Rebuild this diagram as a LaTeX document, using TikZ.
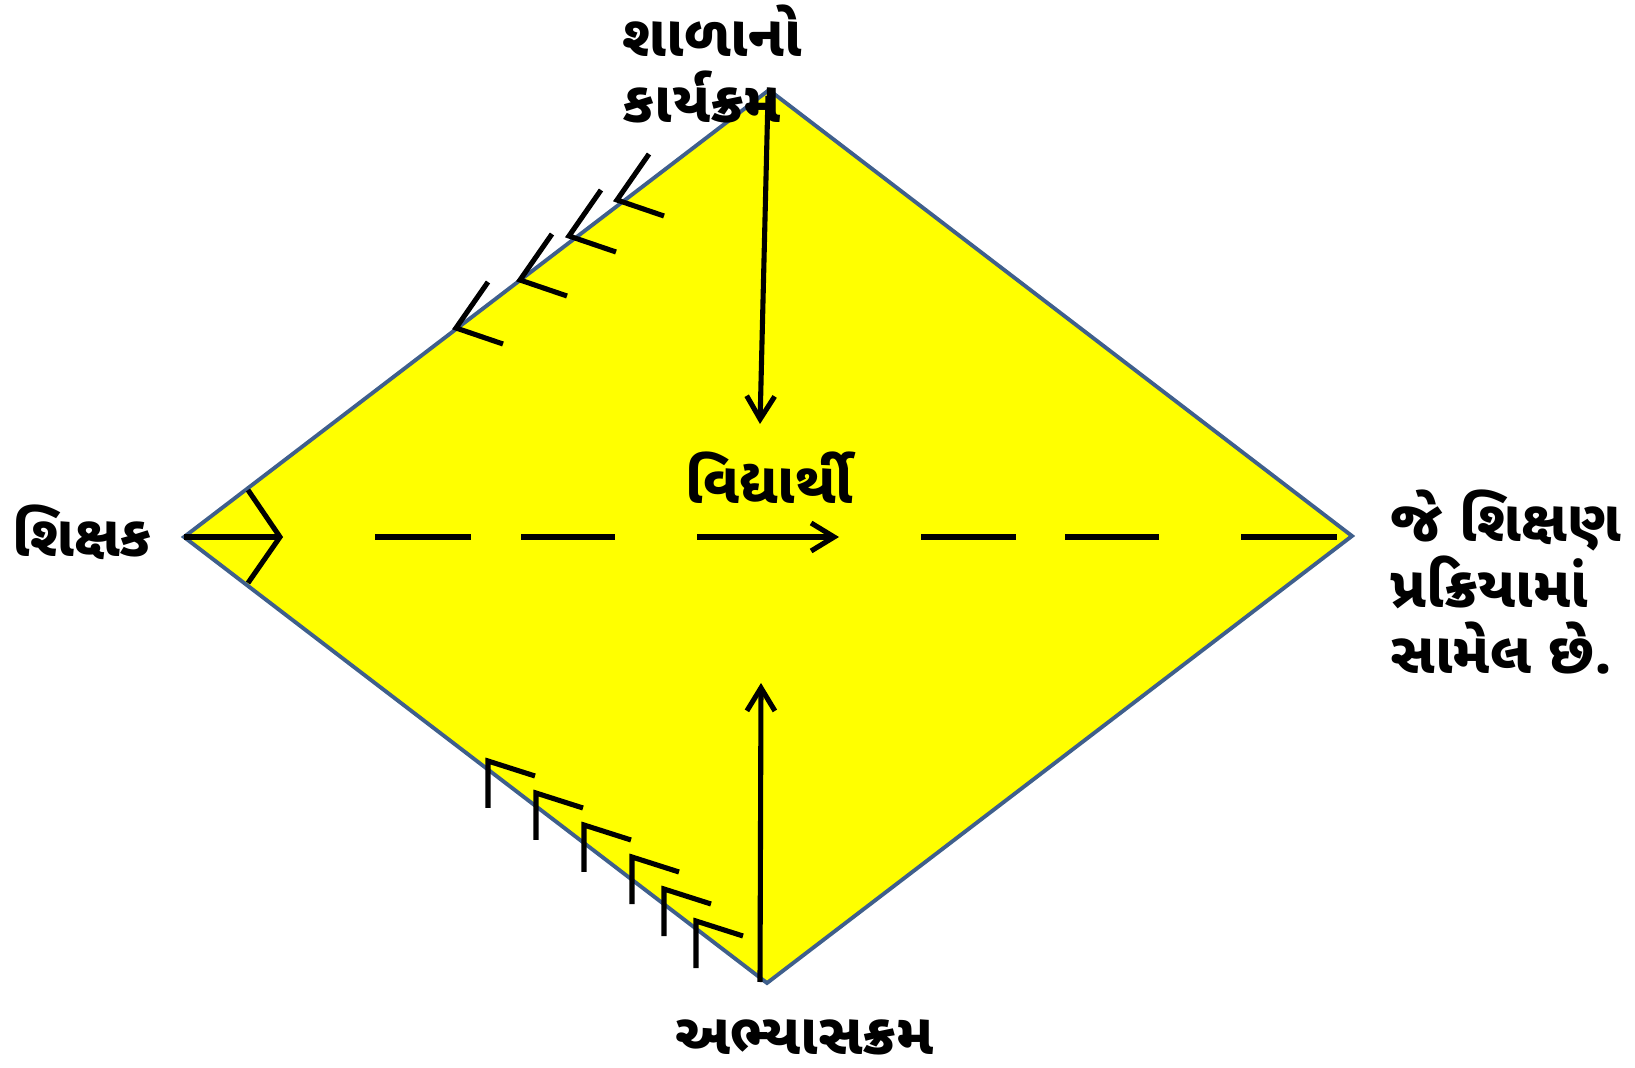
\documentclass[tikz,border=0pt]{standalone}
\usepackage{fontspec}
\usepackage{xcolor}
\usepackage{tikz}
\usetikzlibrary{arrows.meta}
\newfontfamily\gujfont[Script=Gujarati]{Noto Sans Gujarati UI}
\definecolor{cyellow}{HTML}{FFFF00}
\definecolor{cedge}{HTML}{3F5F8C}
\definecolor{cink}{HTML}{000000}
\tikzset{>={Straight Barb[length=2.3mm,width=2.8mm]},
  rim/.style={draw=cedge,line width=1.1pt,fill=cyellow,line join=miter},
  tick/.style={draw=cink,line width=1.45pt},
  glab/.style={font=\gujfont\bfseries\fontsize{16.4}{18.8}\selectfont,text=cink,align=left,inner sep=0pt},
}

\begin{document}
\begin{tikzpicture}[x=0.1mm,y=-0.1mm]
  \useasboundingbox (0,0) rectangle (1635,1068);
  % the four corners of the diamond
  \coordinate (top) at (769,90);
  \coordinate (lft) at (184,537);
  \coordinate (rgt) at (1352,536);
  \coordinate (bot) at (767,983);
  \draw[rim] (top) -- (rgt) -- (bot) -- (lft) -- cycle;

  % teacher corner: line and chevron
  \coordinate (lhead) at (280,537);
  \draw[tick] (lft) -- (lhead);
  \draw[tick] (lhead) ++(-32,-47) -- (lhead) -- ++(-32,46);

  % dashed middle line, arrow in the middle
  \foreach \xa/\xb in {375/471,521/615,921/1016,1065/1159,1241/1337}
    \draw[tick] (\xa,537) -- (\xb,537);
  \coordinate (mfrom) at (697,537);
  \coordinate (mto) at (839,537);
  \draw[tick,->] (mfrom) -- (mto);

  % programme arrow down, curriculum arrow up
  \coordinate (dfrom) at (768,96);
  \coordinate (dto) at (760,424);
  \draw[tick,->] (dfrom) -- (dto);
  \coordinate (ufrom) at (760,982);
  \coordinate (uto) at (761,683);
  \draw[tick,->] (ufrom) -- (uto);

  % ticks on the upper left edge
  \foreach \x/\y in {456/328,520/280,569/236,617/200}
    \draw[tick] (\x,\y) ++(32,-46) -- (\x,\y) -- ++(47,16);
  % ticks on the lower left edge
  \foreach \x/\y in {488/761,536/793,584/825,632/857,664/889,696/921}
    \draw[tick] (\x,\y) ++(0,47) -- (\x,\y) -- ++(47,15);

  \node[glab,anchor=west] (prog) at (622,64) {શાળાનો\\કાર્યક્રમ};
  \node[glab,anchor=west] (shik) at (12,532) {શિક્ષક};
  \node[glab,anchor=west] (vidy) at (685,478) {વિદ્યાર્થી};
  \node[glab,anchor=west] (proc) at (1390,582) {જે શિક્ષણ\\પ્રક્રિયામાં\\સામેલ છે.};
  \node[glab,anchor=west] (abhy) at (675,1037) {અભ્યાસક્રમ};
\end{tikzpicture}
\end{document}
